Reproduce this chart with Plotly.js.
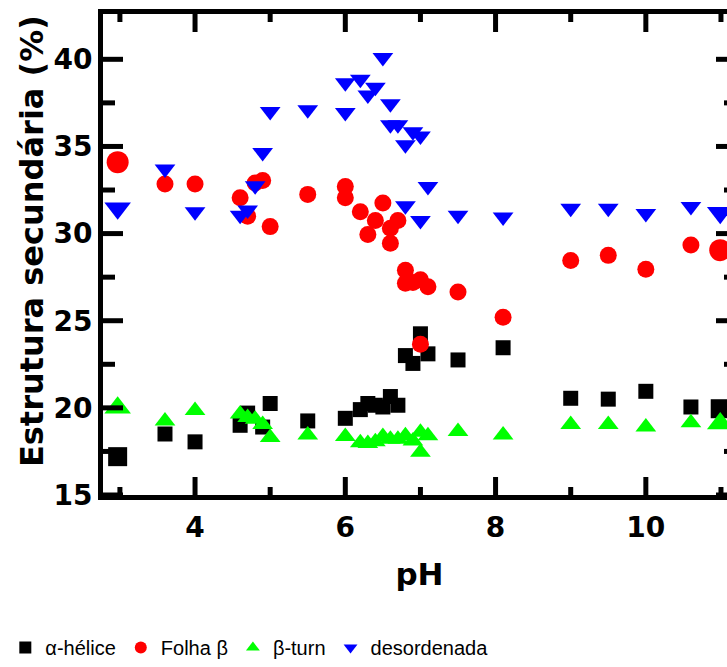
<!DOCTYPE html>
<html>
<head>
<meta charset="utf-8">
<script src="https://cdn.plot.ly/plotly-3.0.1.min.js"></script>
<style>html,body{margin:0;padding:0;overflow:hidden;background:#fff}</style>
</head>
<body>
<div id="chart"></div>
<script>
// α-hélice
const helicePH  = [2.97, 3.6, 4.0, 4.6, 4.7, 4.9, 5.0, 5.5, 6.0, 6.2, 6.3, 6.4, 6.5, 6.6, 6.7, 6.8, 6.9, 7.0, 7.1, 7.5, 8.1, 9.0, 9.5, 10.0, 10.6, 10.99];
const heliceVal = [17.2, 18.5, 18.05, 19.0, 19.7, 18.9, 20.25, 19.25, 19.4, 19.9, 20.25, 20.15, 20.05, 20.65, 20.15, 23.0, 22.55, 24.25, 23.1, 22.75, 23.45, 20.55, 20.5, 20.95, 20.05, 19.95];
// Folha β
const folhaPH  = [2.97, 3.6, 4.0, 4.6, 4.7, 4.8, 4.9, 5.0, 5.5, 6.0, 6.0, 6.2, 6.3, 6.4, 6.5, 6.6, 6.6, 6.7, 6.8, 6.8, 6.9, 7.0, 7.1, 7.0, 7.5, 8.1, 9.0, 9.5, 10.0, 10.6, 10.99];
const folhaVal = [34.1, 32.85, 32.85, 32.05, 31.0, 32.9, 33.05, 30.4, 32.25, 32.7, 32.05, 31.25, 29.95, 30.75, 31.75, 30.3, 29.45, 30.75, 27.9, 27.15, 27.2, 27.35, 26.95, 23.65, 26.65, 25.2, 28.45, 28.75, 27.95, 29.35, 29.05];
// β-turn
const turnPH  = [2.97, 3.6, 4.0, 4.6, 4.7, 4.8, 4.9, 5.0, 5.5, 6.0, 6.2, 6.3, 6.4, 6.5, 6.6, 6.7, 6.8, 6.9, 7.0, 7.0, 7.1, 7.5, 8.1, 9.0, 9.5, 10.0, 10.6, 10.99];
const turnVal = [20.0, 19.25, 19.85, 19.65, 19.45, 19.35, 19.05, 18.3, 18.45, 18.35, 18.0, 17.95, 18.05, 18.35, 18.2, 18.2, 18.4, 18.1, 18.6, 17.45, 18.4, 18.65, 18.45, 19.05, 19.05, 18.9, 19.15, 19.1];
// desordenada
const desPH  = [2.97, 3.6, 4.0, 4.6, 4.7, 4.8, 4.9, 5.0, 5.5, 6.0, 6.0, 6.2, 6.3, 6.4, 6.5, 6.6, 6.6, 6.7, 6.8, 6.9, 7.0, 7.1, 6.8, 7.0, 7.5, 8.1, 9.0, 9.5, 10.0, 10.6, 10.99];
const desVal = [31.45, 33.7, 31.25, 31.05, 31.35, 32.75, 34.65, 37.0, 37.1, 36.95, 38.65, 38.85, 37.95, 38.4, 40.1, 37.45, 36.25, 36.25, 35.1, 35.85, 35.6, 32.7, 31.6, 30.75, 31.05, 30.95, 31.45, 31.45, 31.15, 31.55, 31.2];

const seriesNames = ['α-hélice', 'Folha β', 'β-turn', 'desordenada'];
const yTitle = 'Estrutura secundária (%)';
const xTitle = 'pH';

// tick values
const xMajorTicks = [4, 6, 8, 10];
const xMinorTicks = [3, 5, 7, 9, 11];
const yMajorTicks = [15, 20, 25, 30, 35, 40];
const yMinorTicks = [17.5, 22.5, 27.5, 32.5, 37.5];

const xRange = [2.775, 11.2];
const yRange = [15, 42.6];
const W = 760, H = 667;
const M = {l: 103, r: 24, t: 14, b: 172};

const isEnd = x => (x < 3.05 || x > 10.9);

function seriesTraces(name, xs, ys, symbol, color, base, big) {
  const mid = xs.map((x, i) => i).filter(i => !isEnd(xs[i]));
  const end = xs.map((x, i) => i).filter(i => isEnd(xs[i]));
  return [
    {x: mid.map(i => xs[i]), y: mid.map(i => ys[i]), name: name, legendgroup: name,
     type: 'scatter', mode: 'markers',
     marker: {symbol: symbol, color: color, size: base, opacity: 1, line: {width: 0}}},
    {x: end.map(i => xs[i]), y: end.map(i => ys[i]), name: name, legendgroup: name, showlegend: false,
     type: 'scatter', mode: 'markers',
     marker: {symbol: symbol, color: color, size: big, opacity: 1, line: {width: 0}}}
  ];
}

// inward tick marks on all four sides, drawn as line segments in axis units
const xPerPx = (xRange[1] - xRange[0]) / (W - M.l - M.r);
const yPerPx = (yRange[1] - yRange[0]) / (H - M.t - M.b);
function tickTrace(xVals, xLen, yVals, yLen) {
  const x = [], y = [];
  xVals.forEach(v => {
    x.push(v, v, null, v, v, null);
    y.push(yRange[0], yRange[0] + xLen * yPerPx, null, yRange[1], yRange[1] - xLen * yPerPx, null);
  });
  yVals.forEach(v => {
    x.push(xRange[0], xRange[0] + yLen * xPerPx, null, xRange[1], xRange[1] - yLen * xPerPx, null);
    y.push(v, v, null, v, v, null);
  });
  return {x: x, y: y, type: 'scatter', mode: 'lines', showlegend: false, hoverinfo: 'skip',
          line: {color: '#000', width: 5}, connectgaps: false};
}

const traces = [].concat(
  seriesTraces(seriesNames[0], helicePH, heliceVal, 'square', '#000000', 15, 19),
  seriesTraces(seriesNames[1], folhaPH, folhaVal, 'circle', '#ff0000', 17, 22),
  seriesTraces(seriesNames[2], turnPH, turnVal, 'triangle-up', '#00ff00', 18, 23),
  seriesTraces(seriesNames[3], desPH, desVal, 'triangle-down', '#0000ff', 18, 23),
  [tickTrace(xMajorTicks, 18, yMajorTicks, 20), tickTrace(xMinorTicks, 8, yMinorTicks, 12)]
);

const tickFont = {family: 'DejaVu Sans', size: 28, color: '#000', weight: 700};
const titleFont = {family: 'DejaVu Sans', size: 31, color: '#000', weight: 700};

const layout = {
  width: W, height: H,
  margin: M,
  paper_bgcolor: 'rgba(0,0,0,0)', plot_bgcolor: 'rgba(0,0,0,0)',
  showlegend: true,
  xaxis: {
    range: xRange, tickmode: 'array', tickvals: xMajorTicks,
    ticks: '', showline: true, linewidth: 5, linecolor: '#000', mirror: true,
    showgrid: false, zeroline: false,
    tickfont: tickFont, ticklabelstandoff: 3,
    title: {text: xTitle, font: titleFont, standoff: 22}
  },
  yaxis: {
    range: yRange, tickmode: 'array', tickvals: yMajorTicks,
    ticks: '', showline: true, linewidth: 5, linecolor: '#000', mirror: true,
    showgrid: false, zeroline: false,
    tickfont: tickFont, ticksuffix: '\u00a0'
  },
  annotations: [{
    text: yTitle, textangle: -90, showarrow: false,
    xref: 'paper', yref: 'paper', x: 0, y: 0.528, xanchor: 'center', yanchor: 'middle',
    xshift: -71, font: {family: 'DejaVu Sans', size: 32, color: '#000', weight: 700}
  }],
  legend: {
    orientation: 'h', xref: 'container', yref: 'container',
    x: 0.007, xanchor: 'left', y: 0.0, yanchor: 'bottom',
    font: {family: 'Liberation Sans', size: 20, color: '#000'},
    itemsizing: 'constant', bgcolor: 'rgba(0,0,0,0)'
  }
};

Plotly.newPlot('chart', traces, layout, {displayModeBar: false});
</script>
</body>
</html>
